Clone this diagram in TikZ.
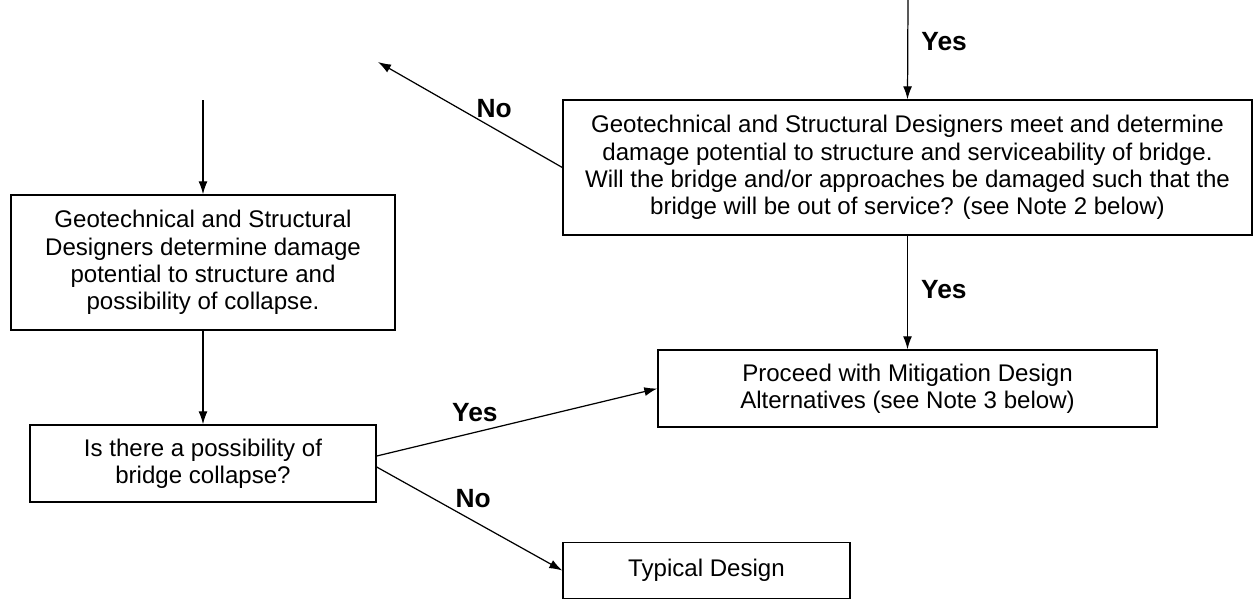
\documentclass[tikz,border=0pt]{standalone}
\usepackage{fontspec}
\setmainfont{Liberation Sans}
\usetikzlibrary{arrows.meta,positioning}
\tikzset{
  box/.style={draw, line width=0.85pt, inner sep=0pt, align=center,
    font=\fontsize{13.7}{15.6}\selectfont},
  flow/.style={-{Latex[length=0.26cm,width=0.18cm]}, line width=0.7pt},
  lbl/.style={font=\fontsize{15}{17}\selectfont\bfseries, inner sep=0pt}
}
\begin{document}
\begin{tikzpicture}[x=0.02cm,y=-0.02cm]
  \useasboundingbox (0,0) rectangle (1254,600);
  % right-top: meeting of the designers
  \node[box, minimum width=13.78cm, minimum height=2.7cm] (meet) at (907.5,167.5)
    {Geotechnical and Structural Designers meet and determine\\
     damage potential to structure and serviceability of bridge.\\
     Will the bridge and/or approaches be damaged such that the\\
     bridge will be out of service? (see Note 2 below)};
  % left column
  \node[box, minimum width=7.68cm, minimum height=2.7cm] (damage) at (203,262.5)
    {Geotechnical and Structural\\
     Designers determine damage\\
     potential to structure and\\
     possibility of collapse.};
  \node[box, minimum width=6.92cm, minimum height=1.54cm] (collapse) at (203,463.5)
    {Is there a possibility of\\ bridge collapse?};
  % right-bottom
  \node[box, minimum width=9.98cm, minimum height=1.54cm] (mitig) at (907.5,388.5)
    {Proceed with Mitigation Design\\ Alternatives (see Note 3 below)};
  \node[box, minimum width=5.74cm, minimum height=1.12cm] (typical) at (706.5,570.5)
    {Typical Design};
  % free ends of the incoming and outgoing arrows
  \coordinate (intop) at (908,0);
  \coordinate (inleft) at (203,100);
  \coordinate (outno) at (378,62);
  % connectors
  \draw[flow] (intop) -- node[lbl, right=0.26cm, pos=0.42] (yesin) {Yes} (meet.north);
  \draw[flow] (meet.west) -- node[lbl, above=0.2cm, pos=0.37] (noout) {No} (outno);
  \draw[flow] (meet.south) -- node[lbl, right=0.26cm, pos=0.47] (yesmit) {Yes} (mitig.north);
  \draw[flow] (inleft) -- (damage.north);
  \draw[flow] (damage.south) -- (collapse.north);
  \draw[flow] ([yshift=0.15cm]collapse.east) -- node[lbl, above=0.2cm, pos=0.35] (yescol) {Yes} (mitig.west);
  \draw[flow] ([yshift=-0.07cm]collapse.east) -- node[lbl, above=0.25cm, pos=0.52] (nocol) {No} (typical.west);
\end{tikzpicture}
\end{document}
